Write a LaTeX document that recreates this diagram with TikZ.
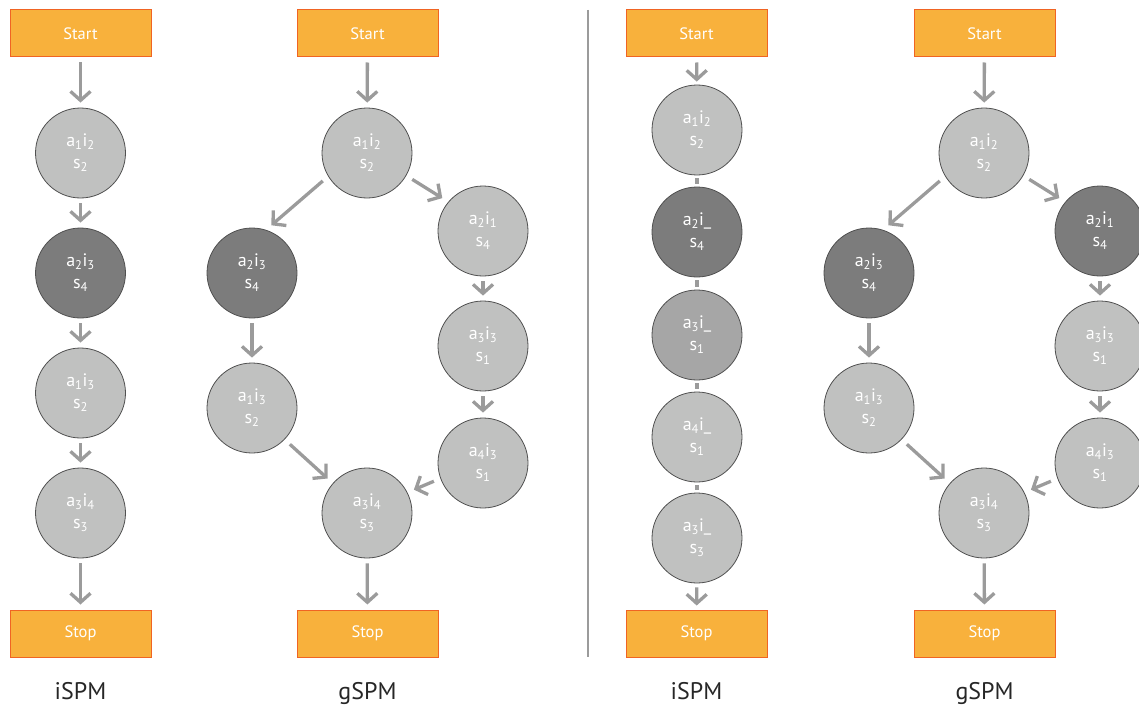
\documentclass[tikz,border=0pt]{standalone}
\usepackage{fontspec}
\setmainfont{PT Sans}
\usetikzlibrary{arrows.meta}
\definecolor{boxfill}{RGB}{248,177,60}
\definecolor{boxline}{RGB}{240,100,35}
\definecolor{lightstate}{RGB}{192,193,192}
\definecolor{darkstate}{RGB}{124,124,124}
\definecolor{midstate}{RGB}{166,166,166}
\definecolor{rim}{RGB}{80,80,80}
\definecolor{flow}{RGB}{155,155,155}
\newcommand{\st}[3]{a\textsubscript{#1}i\textsubscript{#2}\\s\textsubscript{#3}}
\newcommand{\su}[2]{a\textsubscript{#1}i\_\\s\textsubscript{#2}}

\begin{document}
\begin{tikzpicture}[x=1pt,y=-1pt,
  endbox/.style={rectangle, draw=boxline, fill=boxfill, line width=1pt,
    minimum width=141pt, minimum height=47pt, inner sep=0pt, text=white,
    font=\fontsize{16.5}{19}\selectfont},
  stnode/.style={circle, draw=rim, line width=0.8pt, minimum size=90pt,
    inner sep=0pt, text=white, align=center,
    font=\fontsize{18}{22}\selectfont, fill=lightstate},
  darkst/.style={stnode, fill=darkstate},
  midst/.style={stnode, fill=midstate},
  flowarrow/.style={draw=flow, line width=3.3pt,
    -{Straight Barb[length=9pt, width=20pt]}, shorten <=5pt, shorten >=5pt},
  far/.style={shorten <=7pt, shorten >=7pt},
  stub/.style={draw=flow, line width=4.5pt, shorten <=3pt, shorten >=3pt},
  panelname/.style={font=\fontsize{24}{28}\selectfont, text=black!85, anchor=base}
]
\useasboundingbox (0,0) rectangle (1139,706);
\clip (0,0) rectangle (1139,706);

% ---------- iSPM, first chain ----------
\node[endbox] (p1start) at (80.5,33.5) {Start};
\node[stnode] (p1a) at (80.5,153) {\st{1}{2}{2}};
\node[darkst] (p1b) at (80.5,273) {\st{2}{3}{4}};
\node[stnode] (p1c) at (80.5,393) {\st{1}{3}{2}};
\node[stnode] (p1d) at (80.5,513) {\st{3}{4}{3}};
\node[endbox] (p1stop) at (80.5,633.5) {Stop};
\node[panelname] (p1name) at (80.5,699) {iSPM};
\draw[flowarrow] (p1start) -- (p1a);
\draw[flowarrow] (p1a) -- (p1b);
\draw[flowarrow] (p1b) -- (p1c);
\draw[flowarrow] (p1c) -- (p1d);
\draw[flowarrow] (p1d) -- (p1stop);

% ---------- gSPM, first graph ----------
\node[endbox] (p2start) at (367.5,33.5) {Start};
\node[stnode] (g1) at (367,153) {\st{1}{2}{2}};
\node[darkst] (g2) at (252,273) {\st{2}{3}{4}};
\node[stnode] (g3) at (252,408) {\st{1}{3}{2}};
\node[stnode] (g4) at (483,231) {\st{2}{1}{4}};
\node[stnode] (g5) at (483,346) {\st{3}{3}{1}};
\node[stnode] (g6) at (483,463) {\st{4}{3}{1}};
\node[stnode] (g7) at (367,513) {\st{3}{4}{3}};
\node[endbox] (p2stop) at (367.5,633.5) {Stop};
\node[panelname] (p2name) at (367.5,699) {gSPM};
\draw[flowarrow] (p2start) -- (g1);
\draw[flowarrow, far] (g1.211) -- (g2.72);
\draw[flowarrow, far] (g1.330) -- (g4.140);
\draw[flowarrow] (g2) -- (g3);
\draw[flowarrow] (g4) -- (g5);
\draw[flowarrow] (g5) -- (g6);
\draw[flowarrow, far] (g3.316) -- (g7.139);
\draw[flowarrow, far] (g6.200) -- (g7.27);
\draw[flowarrow] (g7) -- (p2stop);

% ---------- separator ----------
\draw[draw=flow, line width=1.5pt] (588,10) -- (588,657);

% ---------- iSPM, second chain ----------
\node[endbox] (p3start) at (696.5,33.5) {Start};
\node[stnode] (q1) at (697,130) {\st{1}{2}{2}};
\node[darkst] (q2) at (697,232) {\su{2}{4}};
\node[midst] (q3) at (697,335) {\su{3}{1}};
\node[stnode] (q4) at (697,437) {\su{4}{1}};
\node[stnode] (q5) at (697,538) {\su{3}{3}};
\node[endbox] (p3stop) at (696.5,633.5) {Stop};
\node[panelname] (p3name) at (696.5,699) {iSPM};
\draw[flowarrow, shorten >=3pt] (p3start) -- (q1);
\draw[stub] (q1) -- (q2);
\draw[stub] (q2) -- (q3);
\draw[stub] (q3) -- (q4);
\draw[stub] (q4) -- (q5);
\draw[flowarrow, shorten <=4pt, shorten >=4pt] (q5) -- (p3stop);

% ---------- gSPM, second graph ----------
\node[endbox] (p4start) at (984.5,33.5) {Start};
\node[stnode] (h1) at (984,153) {\st{1}{2}{2}};
\node[darkst] (h2) at (869,273) {\st{2}{3}{4}};
\node[stnode] (h3) at (869,408) {\st{1}{3}{2}};
\node[darkst] (h4) at (1100,231) {\st{2}{1}{4}};
\node[stnode] (h5) at (1100,346) {\st{3}{3}{1}};
\node[stnode] (h6) at (1100,463) {\st{4}{3}{1}};
\node[stnode] (h7) at (984,513) {\st{3}{4}{3}};
\node[endbox] (p4stop) at (984.5,633.5) {Stop};
\node[panelname] (p4name) at (984.5,699) {gSPM};
\draw[flowarrow] (p4start) -- (h1);
\draw[flowarrow, far] (h1.211) -- (h2.72);
\draw[flowarrow, far] (h1.330) -- (h4.140);
\draw[flowarrow] (h2) -- (h3);
\draw[flowarrow] (h4) -- (h5);
\draw[flowarrow] (h5) -- (h6);
\draw[flowarrow, far] (h3.316) -- (h7.139);
\draw[flowarrow, far] (h6.200) -- (h7.27);
\draw[flowarrow] (h7) -- (p4stop);
\end{tikzpicture}
\end{document}
